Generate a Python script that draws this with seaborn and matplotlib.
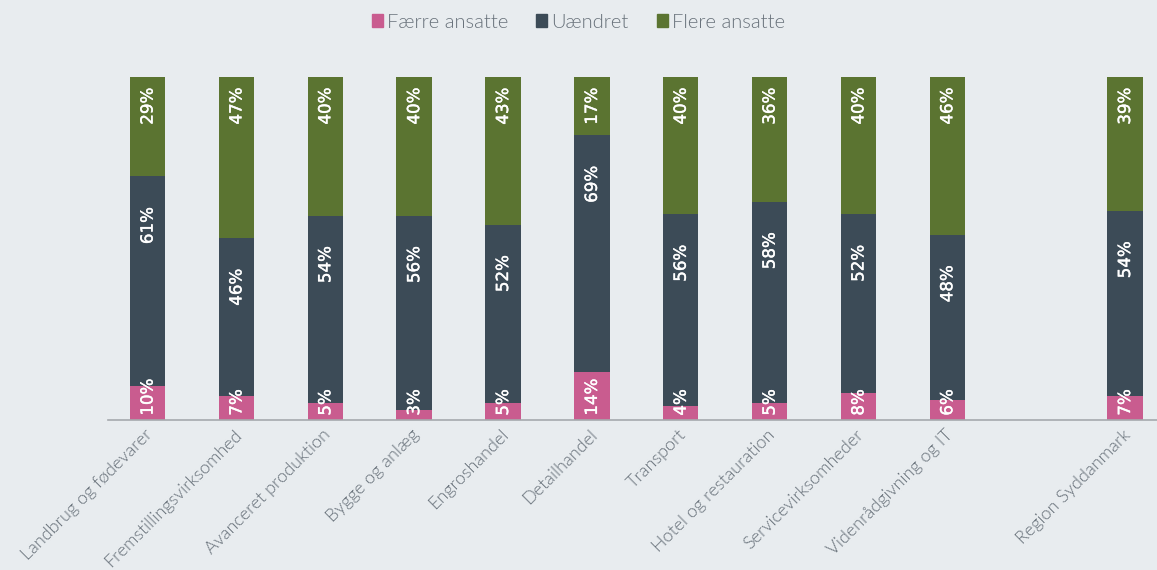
import numpy as np
import pandas as pd
import seaborn as sns
import matplotlib.pyplot as plt
import matplotlib.transforms as mtransforms
import matplotlib.patheffects as pe
from matplotlib.patches import Patch

# data (share of companies, %)
brancher = ['Landbrug og fødevarer', 'Fremstillingsvirksomhed', 'Avanceret produktion',
            'Bygge og anlæg', 'Engroshandel', 'Detailhandel', 'Transport',
            'Hotel og restauration', 'Servicevirksomheder', 'Videnrådgivning og IT',
            'Region Syddanmark']
faerre = [10, 7, 5, 3, 5, 14, 4, 5, 8, 6, 7]
uaendret = [61, 46, 54, 56, 52, 69, 56, 58, 52, 48, 54]
flere = [29, 47, 40, 40, 43, 17, 40, 36, 40, 46, 39]

serier = ['Færre ansatte', 'Uændret', 'Flere ansatte']
farver = ['#c95c8f', '#3c4b57', '#5b7431']
bg = '#e8ecef'
grey = '#68717a'

df = pd.DataFrame({'branche': brancher, 'faerre': faerre,
                   'uaendret': uaendret, 'flere': flere})
tot = df[['faerre', 'uaendret', 'flere']].sum(axis=1)
# bars are drawn as 100% stacks
df['p1'] = df['faerre'] / tot * 100
df['p2'] = (df['faerre'] + df['uaendret']) / tot * 100
df['p3'] = 100.0

# empty slot before the region total
order = brancher[:-1] + ['_gap'] + brancher[-1:]

sns.set_style('white')
plt.rcParams['font.family'] = ['Lato', 'DejaVu Sans']

fig = plt.figure(figsize=(11.57, 5.70), dpi=100, facecolor=bg)
ax = fig.add_axes([0.093, 0.263, 0.907, 0.602])
ax.set_facecolor(bg)

for col, c in zip(['p3', 'p2', 'p1'], farver[::-1]):
    sns.barplot(data=df, x='branche', y=col, order=order, color=c,
                width=0.4, saturation=1, ax=ax, linewidth=0)

pos = {b: order.index(b) for b in brancher}
lbl = dict(color='white', fontsize=12, rotation=90, ha='center',
           family='DejaVu Sans',
           path_effects=[pe.withStroke(linewidth=0.3, foreground='white')])
for _, r in df.iterrows():
    x = pos[r['branche']]
    ax.text(x, 1.3, f"{r['faerre']}%", va='bottom', **lbl)
    ax.text(x, r['p2'] - 9.0, f"{r['uaendret']}%", va='top', **lbl)
    ax.text(x, 96.8, f"{r['flere']}%", va='top', **lbl)

ax.set_ylim(0, 100)
ax.set_xlim(-0.45, 11.36)
ax.set_ylabel('')
ax.set_xlabel('')
ax.set_yticks([])
for s in ['top', 'right', 'left']:
    ax.spines[s].set_visible(False)
ax.spines['bottom'].set_color('#a5a9ad')
ax.spines['bottom'].set_linewidth(1.2)

ax.set_xticks([pos[b] for b in brancher])
ax.set_xticklabels(brancher, rotation=45, ha='right', va='top',
                   rotation_mode='anchor', color=grey, fontsize=13,
                   fontweight=300)
ax.tick_params(axis='x', length=0, pad=6)
shift = mtransforms.ScaledTranslation(-3 / 100, 2 / 100, fig.dpi_scale_trans)
for t in ax.get_xticklabels():
    t.set_transform(t.get_transform() + shift)
ax.set_xticks(np.arange(0.5, 11, 1.0), minor=True)
ax.tick_params(axis='x', which='minor', length=5, width=1.2, color='#a5a9ad',
               direction='out')

handles = [Patch(color=c, label=s) for c, s in zip(farver, serier)]
fig.legend(handles=handles, loc='upper center', bbox_to_anchor=(0.5, 1.008),
           ncol=3, frameon=False, handlelength=0.55,
           handleheight=0.55, handletextpad=0.2, columnspacing=1.4,
           labelcolor=grey, prop={'size': 14.5, 'weight': 300})

fig.savefig('out.png', dpi=100, facecolor=bg)
